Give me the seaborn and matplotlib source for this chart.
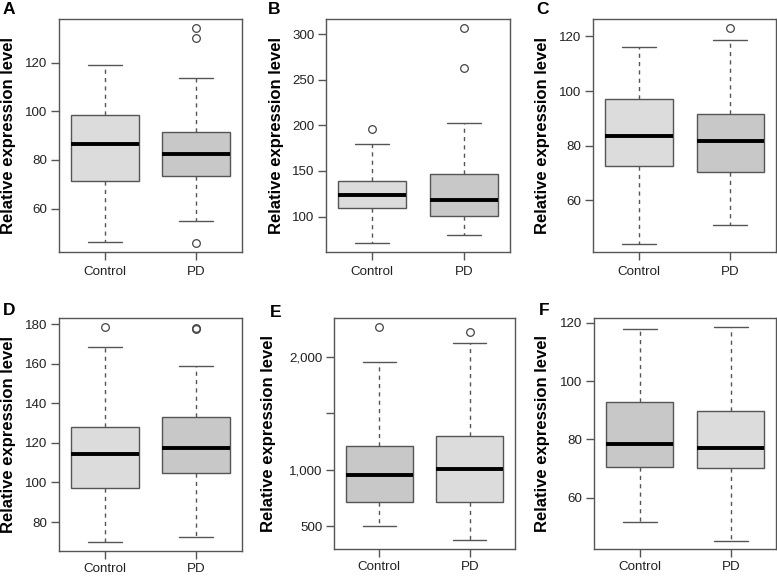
import matplotlib
matplotlib.use("Agg")
import matplotlib.pyplot as plt
import seaborn as sns

sns.set_theme(style="white")
plt.rcParams['font.family'] = ['Liberation Sans', 'DejaVu Sans']

# ---- data ----
panels = ['A', 'B', 'C', 'D', 'E', 'F']
groups = ['Control', 'PD']

ctrl_whislo = [46.1, 70.9, 44.2, 69.7, 500, 51.7]
ctrl_q1     = [71.5, 108.8, 72.7, 97.3, 716, 70.7]
ctrl_med    = [86.4, 124.1, 83.4, 114.5, 958, 78.4]
ctrl_q3     = [98.6, 139.1, 97.1, 128.3, 1216, 93.0]
ctrl_whishi = [119.1, 179.5, 116.0, 168.4, 1952, 117.7]
ctrl_fliers = [[], [196], [], [178.7], [2267], []]

pd_whislo = [54.9, 79.6, 51.0, 72.6, 376, 45.3]
pd_q1     = [73.6, 101.1, 70.5, 105.0, 716, 70.1]
pd_med    = [82.4, 118.2, 81.6, 117.5, 1012, 77.0]
pd_q3     = [91.3, 146.4, 91.5, 133.1, 1299, 89.9]
pd_whishi = [113.8, 202.2, 118.5, 158.8, 2125, 118.6]
pd_fliers = [[134.4, 130.1, 45.7], [263, 307], [123.2], [177.4, 178.0], [2219], []]

y_ticks = [[60, 80, 100, 120],
           [100, 150, 200, 250, 300],
           [60, 80, 100, 120],
           [80, 100, 120, 140, 160, 180],
           [500, 1000, 1500, 2000],
           [60, 80, 100, 120]]
y_ticklabels = [['60', '80', '100', '120'],
                ['100', '150', '200', '250', '300'],
                ['60', '80', '100', '120'],
                ['80', '100', '120', '140', '160', '180'],
                ['500', '1,000', '', '2,000'],
                ['60', '80', '100', '120']]

light = '#dcdcdc'
dark = '#c8c8c8'
ctrl_colors = [light, light, light, light, dark, dark]
pd_colors = [dark, dark, dark, dark, light, light]

# ---- layout (pixels) ----
W, H = 777, 576
ax_px = [(59, 19, 242, 252), (326.3, 19, 510, 251.7), (593.3, 19, 776, 252.3),
         (58.7, 318.3, 242.3, 551), (334, 318.3, 515, 549), (594.3, 318.3, 776.3, 549.3)]
ylab_x = [9, 276, 543, 9, 269, 543]
letter_xy = [(3, 2), (268, 2), (536, 2), (3, 303), (270, 305), (539, 303)]
xpad = [4, 4, 4, 2.5, 2.5, 2.5]

fig = plt.figure(figsize=(W / 100, H / 100), dpi=100)
line_col = '#555555'

for i, p in enumerate(panels):
    l, t, r, b = ax_px[i]
    ax = fig.add_axes([l / W, 1 - b / H, (r - l) / W, (b - t) / H])
    stats = [
        dict(whislo=ctrl_whislo[i], q1=ctrl_q1[i], med=ctrl_med[i], q3=ctrl_q3[i],
             whishi=ctrl_whishi[i], fliers=ctrl_fliers[i], label=groups[0]),
        dict(whislo=pd_whislo[i], q1=pd_q1[i], med=pd_med[i], q3=pd_q3[i],
             whishi=pd_whishi[i], fliers=pd_fliers[i], label=groups[1]),
    ]
    bp = ax.bxp(stats, positions=[1, 2], widths=0.74, capwidths=0.37,
                patch_artist=True, showfliers=True,
                boxprops=dict(edgecolor=line_col, linewidth=1.0),
                whiskerprops=dict(color=line_col, linewidth=1.0, linestyle=(0, (3, 3))),
                capprops=dict(color=line_col, linewidth=1.0),
                medianprops=dict(color='black', linewidth=2.8, solid_capstyle='butt'),
                flierprops=dict(marker='o', markerfacecolor='none', markeredgecolor='#444444',
                                markersize=5.5, markeredgewidth=0.9, linestyle='none'))
    for patch, c in zip(bp['boxes'], [ctrl_colors[i], pd_colors[i]]):
        patch.set_facecolor(c)

    allv = [ctrl_whislo[i], ctrl_whishi[i], pd_whislo[i], pd_whishi[i]] + ctrl_fliers[i] + pd_fliers[i]
    lo, hi = min(allv), max(allv)
    pad = (hi - lo) * 0.04
    ax.set_ylim(lo - pad, hi + pad)
    ax.set_xlim(0.5, 2.5)
    ax.set_yticks(y_ticks[i])
    ax.set_yticklabels(y_ticklabels[i])
    ax.set_xticks([1, 2])
    ax.set_xticklabels(groups)
    ax.tick_params(axis='both', which='both', direction='out', length=6, width=1.0,
                   color=line_col, labelsize=9.6, labelcolor='#222222',
                   left=True, bottom=True)
    ax.tick_params(axis='y', pad=2.5)
    ax.tick_params(axis='x', pad=xpad[i])
    for s in ax.spines.values():
        s.set_color(line_col)
        s.set_linewidth(1.0)
        s.set_visible(True)
    ax.set_facecolor('white')
    ax.grid(False)

    fig.text(ylab_x[i] / W, 1 - ((t + b) / 2) / H, 'Relative expression level',
             rotation=90, ha='center', va='center', fontsize=12, fontweight='bold',
             color='black')
    lx, ly = letter_xy[i]
    fig.text(lx / W, 1 - ly / H, p, ha='left', va='top', fontsize=12.5,
             fontweight='bold', color='black')

fig.savefig('out.png', dpi=100, facecolor='white')
